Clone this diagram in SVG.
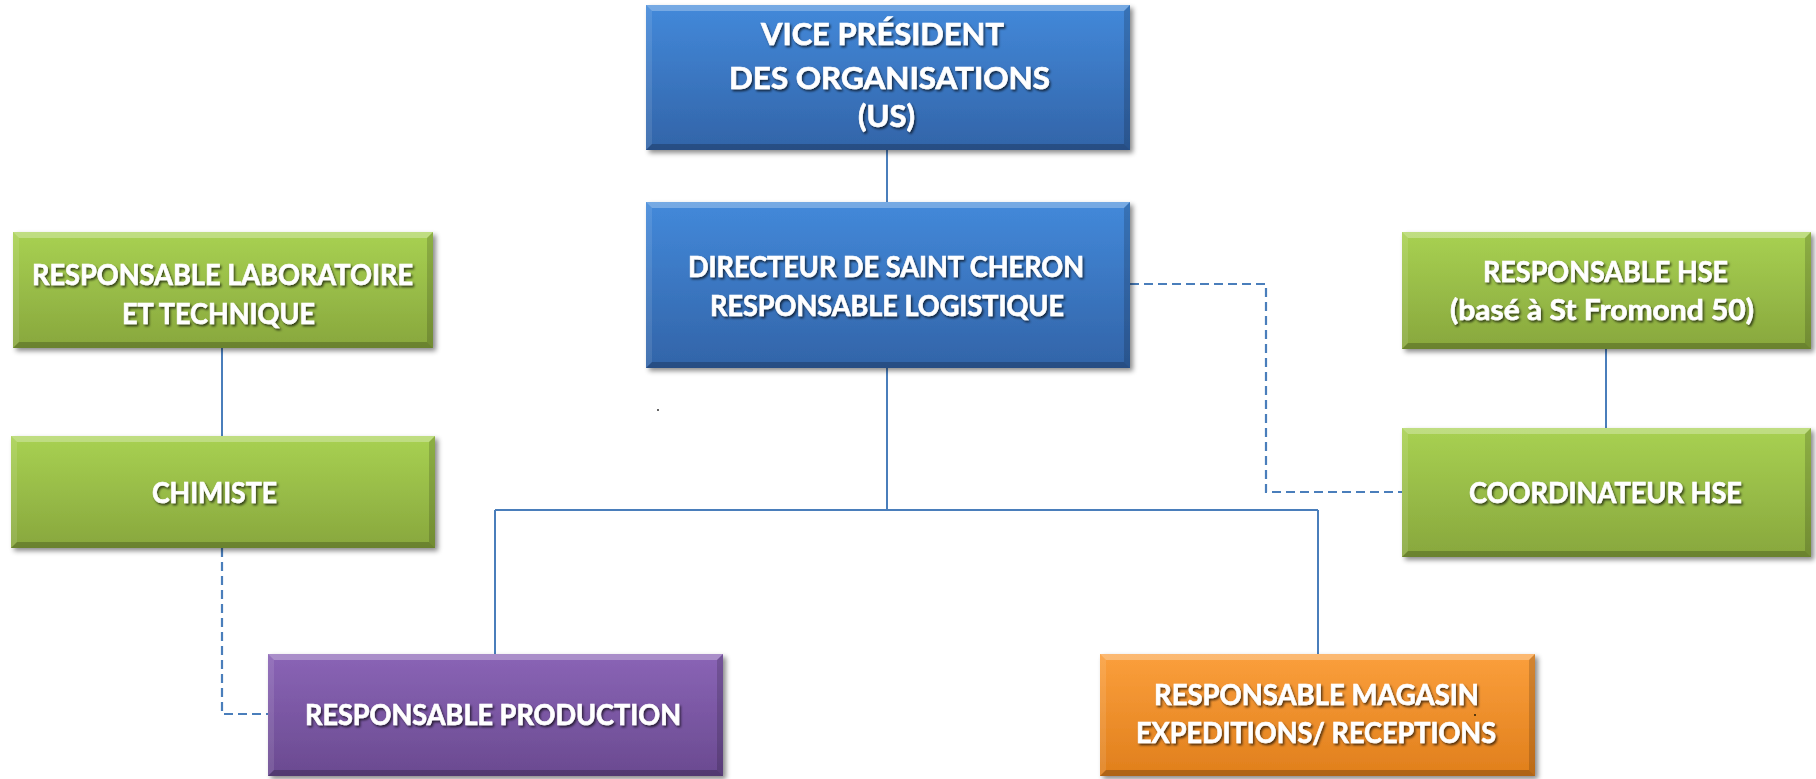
<svg xmlns="http://www.w3.org/2000/svg" width="1816" height="779" viewBox="0 0 1816 779">
  <defs>
    <linearGradient id="gBlue" x1="0" y1="0" x2="0" y2="1">
      <stop offset="0" stop-color="#4389da"/>
      <stop offset="1" stop-color="#3264a8"/>
    </linearGradient>
    <linearGradient id="gGreen" x1="0" y1="0" x2="0" y2="1">
      <stop offset="0" stop-color="#a8d152"/>
      <stop offset="1" stop-color="#88a73d"/>
    </linearGradient>
    <linearGradient id="gPurple" x1="0" y1="0" x2="0" y2="1">
      <stop offset="0" stop-color="#8a64b6"/>
      <stop offset="1" stop-color="#6a4a90"/>
    </linearGradient>
    <linearGradient id="gOrange" x1="0" y1="0" x2="0" y2="1">
      <stop offset="0" stop-color="#fb9f3c"/>
      <stop offset="1" stop-color="#e07f1c"/>
    </linearGradient>
    <filter id="boxShadow" x="-5%" y="-10%" width="115%" height="130%">
      <feDropShadow dx="3" dy="3" stdDeviation="2.5" flood-color="#000" flood-opacity="0.45"/>
    </filter>
    <filter id="textShadow" x="-5%" y="-30%" width="115%" height="170%">
      <feDropShadow dx="1.5" dy="2" stdDeviation="1.2" flood-color="#000" flood-opacity="0.65"/>
    </filter>
  </defs>
  <style>
    .box { filter: url(#boxShadow); }
    .bevel-t { fill: #ffffff; fill-opacity: 0.28; }
    .bevel-l { fill: #ffffff; fill-opacity: 0.10; }
    .bevel-r { fill: #000000; fill-opacity: 0.16; }
    .bevel-b { fill: #000000; fill-opacity: 0.22; }
    .label { font-family: Lato, "Open Sans", "Liberation Sans", sans-serif; font-weight: bold; font-size: 29px; fill: #ffffff; stroke: #ffffff; stroke-width: 0.6; filter: url(#textShadow); }
    .big { font-size: 30px; }
    .link { fill: none; stroke: #4a7ebb; stroke-width: 2; }
    .dash { fill: none; stroke: #4a7ebb; stroke-width: 2.2; stroke-dasharray: 9 5; }
  </style>

  <rect width="1816" height="779" fill="#ffffff"/>

  <!-- reporting lines -->
  <g id="connectors">
    <path class="link" d="M887 150 V202"/>
    <path class="link" d="M887 368 V510"/>
    <path class="link" d="M495 510 H1318"/>
    <path class="link" d="M495 510 V654"/>
    <path class="link" d="M1318 510 V654"/>
    <path class="link" d="M222 348 V436"/>
    <path class="link" d="M1606 349 V428"/>
    <path class="dash" d="M1130 284 H1266 V492 H1402"/>
    <path class="dash" d="M222 548 V714 H268"/>
  </g>

  <!-- Vice président -->
  <g id="node-vp">
    <rect class="box" x="646" y="5" width="484" height="145" fill="url(#gBlue)"/>
    <polygon class="bevel-t" points="646,5 1130,5 1124,11 652,11"/>
    <polygon class="bevel-l" points="646,5 652,11 652,144 646,150"/>
    <polygon class="bevel-r" points="1130,5 1130,150 1124,144 1124,11"/>
    <polygon class="bevel-b" points="646,150 652,144 1124,144 1130,150"/>
    <text class="label big" x="761" y="45" textLength="243" lengthAdjust="spacingAndGlyphs">VICE PRÉSIDENT</text>
    <text class="label big" x="729" y="89" textLength="321" lengthAdjust="spacingAndGlyphs">DES ORGANISATIONS</text>
    <text class="label big" x="858" y="127" textLength="57" lengthAdjust="spacingAndGlyphs">(US)</text>
  </g>

  <!-- Directeur -->
  <g id="node-directeur">
    <rect class="box" x="646" y="202" width="484" height="166" fill="url(#gBlue)"/>
    <polygon class="bevel-t" points="646,202 1130,202 1124,208 652,208"/>
    <polygon class="bevel-l" points="646,202 652,208 652,362 646,368"/>
    <polygon class="bevel-r" points="1130,202 1130,368 1124,362 1124,208"/>
    <polygon class="bevel-b" points="646,368 652,362 1124,362 1130,368"/>
    <text class="label" x="688" y="277" textLength="396" lengthAdjust="spacingAndGlyphs">DIRECTEUR DE SAINT CHERON</text>
    <text class="label" x="710" y="316" textLength="354" lengthAdjust="spacingAndGlyphs">RESPONSABLE LOGISTIQUE</text>
  </g>

  <!-- Responsable laboratoire -->
  <g id="node-laboratoire">
    <rect class="box" x="13" y="232" width="420" height="116" fill="url(#gGreen)"/>
    <polygon class="bevel-t" points="13,232 433,232 427,238 19,238"/>
    <polygon class="bevel-l" points="13,232 19,238 19,342 13,348"/>
    <polygon class="bevel-r" points="433,232 433,348 427,342 427,238"/>
    <polygon class="bevel-b" points="13,348 19,342 427,342 433,348"/>
    <text class="label" x="32" y="285" textLength="381" lengthAdjust="spacingAndGlyphs">RESPONSABLE LABORATOIRE</text>
    <text class="label" x="122" y="324" textLength="193" lengthAdjust="spacingAndGlyphs">ET TECHNIQUE</text>
  </g>

  <!-- Chimiste -->
  <g id="node-chimiste">
    <rect class="box" x="11" y="436" width="424" height="112" fill="url(#gGreen)"/>
    <polygon class="bevel-t" points="11,436 435,436 429,442 17,442"/>
    <polygon class="bevel-l" points="11,436 17,442 17,542 11,548"/>
    <polygon class="bevel-r" points="435,436 435,548 429,542 429,442"/>
    <polygon class="bevel-b" points="11,548 17,542 429,542 435,548"/>
    <text class="label" x="152" y="503" textLength="125" lengthAdjust="spacingAndGlyphs">CHIMISTE</text>
  </g>

  <!-- Responsable HSE -->
  <g id="node-hse">
    <rect class="box" x="1402" y="232" width="409" height="117" fill="url(#gGreen)"/>
    <polygon class="bevel-t" points="1402,232 1811,232 1805,238 1408,238"/>
    <polygon class="bevel-l" points="1402,232 1408,238 1408,343 1402,349"/>
    <polygon class="bevel-r" points="1811,232 1811,349 1805,343 1805,238"/>
    <polygon class="bevel-b" points="1402,349 1408,343 1805,343 1811,349"/>
    <text class="label" x="1483" y="282" textLength="245" lengthAdjust="spacingAndGlyphs">RESPONSABLE HSE</text>
    <text class="label" x="1450" y="320" textLength="304" lengthAdjust="spacingAndGlyphs">(basé à St Fromond 50)</text>
  </g>

  <!-- Coordinateur HSE -->
  <g id="node-coordinateur">
    <rect class="box" x="1402" y="428" width="409" height="129" fill="url(#gGreen)"/>
    <polygon class="bevel-t" points="1402,428 1811,428 1805,434 1408,434"/>
    <polygon class="bevel-l" points="1402,428 1408,434 1408,551 1402,557"/>
    <polygon class="bevel-r" points="1811,428 1811,557 1805,551 1805,434"/>
    <polygon class="bevel-b" points="1402,557 1408,551 1805,551 1811,557"/>
    <text class="label" x="1469" y="503" textLength="273" lengthAdjust="spacingAndGlyphs">COORDINATEUR HSE</text>
  </g>

  <!-- Responsable production -->
  <g id="node-production">
    <rect class="box" x="268" y="654" width="455" height="122" fill="url(#gPurple)"/>
    <polygon class="bevel-t" points="268,654 723,654 717,660 274,660"/>
    <polygon class="bevel-l" points="268,654 274,660 274,770 268,776"/>
    <polygon class="bevel-r" points="723,654 723,776 717,770 717,660"/>
    <polygon class="bevel-b" points="268,776 274,770 717,770 723,776"/>
    <text class="label" x="305" y="725" textLength="376" lengthAdjust="spacingAndGlyphs">RESPONSABLE PRODUCTION</text>
  </g>

  <!-- Responsable magasin -->
  <g id="node-magasin">
    <rect class="box" x="1100" y="654" width="435" height="122" fill="url(#gOrange)"/>
    <polygon class="bevel-t" points="1100,654 1535,654 1529,660 1106,660"/>
    <polygon class="bevel-l" points="1100,654 1106,660 1106,770 1100,776"/>
    <polygon class="bevel-r" points="1535,654 1535,776 1529,770 1529,660"/>
    <polygon class="bevel-b" points="1100,776 1106,770 1529,770 1535,776"/>
    <text class="label" x="1154" y="705" textLength="325" lengthAdjust="spacingAndGlyphs">RESPONSABLE MAGASIN</text>
    <text class="label" x="1136" y="743" textLength="360" lengthAdjust="spacingAndGlyphs">EXPEDITIONS/ RECEPTIONS</text>
  </g>

  <!-- stray specks -->
  <rect x="657" y="409" width="2" height="2" fill="#666666"/>
  <rect x="1474" y="714" width="2" height="2" fill="#5a3a10"/>
</svg>
